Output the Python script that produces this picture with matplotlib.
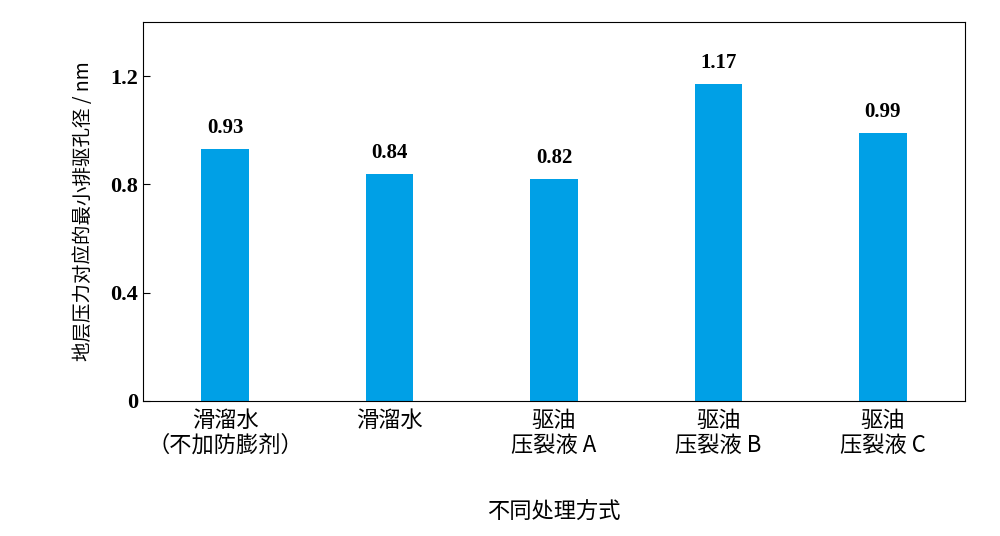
import matplotlib
matplotlib.use("Agg")
import matplotlib.pyplot as plt
from matplotlib import font_manager

categories = ["滑溜水\n（不加防膨剂）", "滑溜水", "驱油\n压裂液 A", "驱油\n压裂液 B", "驱油\n压裂液 C"]
values = [0.93, 0.84, 0.82, 1.17, 0.99]
yticks = [0, 0.4, 0.8, 1.2]
ytick_labels = ["0", "0.4", "0.8", "1.2"]

names = {f.name for f in font_manager.fontManager.ttflist}
cjk_candidates = ["Noto Sans CJK SC", "Noto Sans CJK JP", "Noto Sans CJK TC", "Noto Sans CJK KR", "Noto Serif CJK SC"]
cjk = [n for n in cjk_candidates if n in names] + ["DejaVu Sans"]
serif = "Liberation Serif"

fig = plt.figure(figsize=(10, 5.36), dpi=100)
ax = fig.add_axes([0.143, 0.252, 0.822, 0.707])
x = list(range(len(values)))
ax.bar(x, values, width=0.29, color="#00A0E6")
for xi, v in zip(x, values):
    ax.text(xi, v + 0.04, f"{v:.2f}", ha="center", va="bottom", fontsize=15, family=serif, weight="bold")
ax.set_xlim(-0.5, 4.5)
ax.set_ylim(0, 1.4)
ax.set_yticks(yticks)
ax.set_yticklabels(ytick_labels, fontsize=16, family=serif, weight="bold")
ax.set_xticks(x)
ax.set_xticklabels(categories, fontsize=16, family=cjk, linespacing=1.1)
ax.tick_params(axis="y", direction="in", length=5)
ax.tick_params(axis="x", length=0, pad=6)
fig.text(0.554, 0.045, "不同处理方式", fontsize=16, family=cjk, ha="center", va="center")
ax.set_ylabel("地层压力对应的最小排驱孔径 / nm", fontsize=14, family=cjk, labelpad=12)
fig.savefig("out.png", dpi=100)
